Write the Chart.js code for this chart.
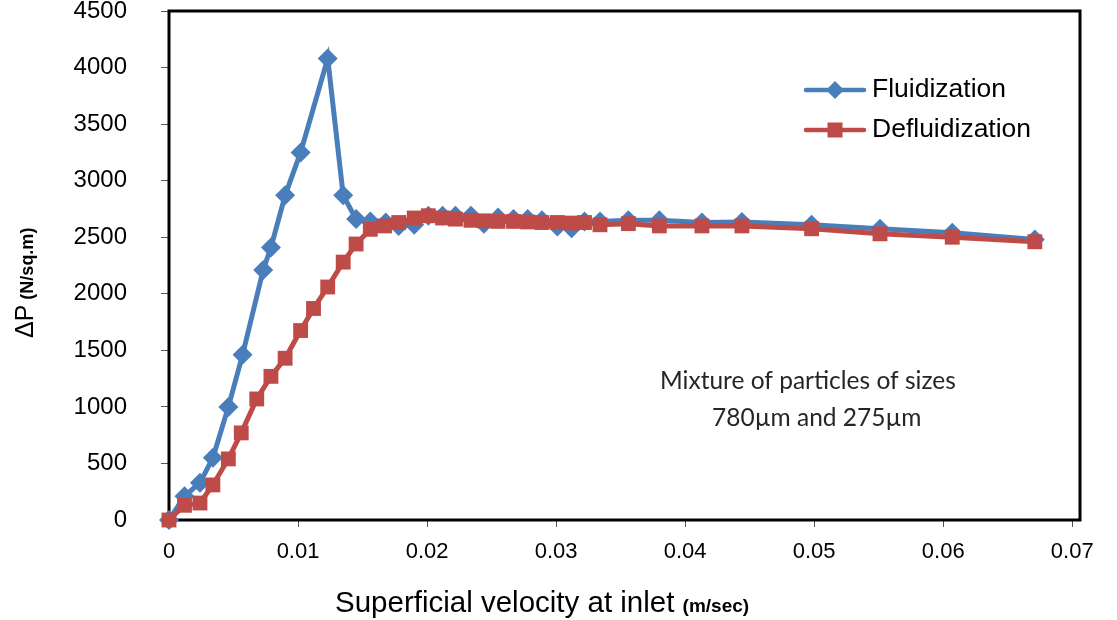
<!DOCTYPE html>
<html lang="en">
<head>
    <meta charset="UTF-8" />
    <title>Fluidization / Defluidization pressure drop</title>
    <script src="https://cdn.jsdelivr.net/npm/chart.js"></script>
    <style>
        html, body { margin: 0; padding: 0; background: #fff; }
        #wrap { position: relative; width: 1117px; height: 620px; }
    </style>
</head>
<body>
<div id="wrap"><canvas id="dpChart" width="1117" height="620"></canvas></div>
<script>
    // superficial velocity (m/sec) and pressure drop (N/sq.m)
    const velocityFluid = [0, 0.0012, 0.0024, 0.0034, 0.0046, 0.0057, 0.0073, 0.0079, 0.0090, 0.0102,
        0.0123, 0.0135, 0.0145, 0.0156, 0.0168, 0.0178, 0.0190, 0.0201, 0.0212, 0.0222,
        0.0234, 0.0244, 0.0255, 0.0267, 0.0278, 0.0289, 0.0301, 0.0312, 0.0322, 0.0334,
        0.0356, 0.0380, 0.0413, 0.0444, 0.0498, 0.0551, 0.0607, 0.0671];
    const dpFluid = [0, 210, 330, 550, 1000, 1460, 2210, 2410, 2870, 3250,
        4080, 2870, 2660, 2640, 2630, 2600, 2610, 2690, 2690, 2690,
        2690, 2620, 2675, 2660, 2660, 2650, 2595, 2580, 2640, 2640,
        2650, 2650, 2630, 2635, 2610, 2575, 2540, 2480];

    const velocityDefluid = [0, 0.0012, 0.0024, 0.0034, 0.0046, 0.0056, 0.0068, 0.0079, 0.0090, 0.0102,
        0.0112, 0.0123, 0.0135, 0.0145, 0.0156, 0.0167, 0.0178, 0.0190, 0.0201, 0.0212,
        0.0222, 0.0234, 0.0244, 0.0255, 0.0267, 0.0278, 0.0289, 0.0301, 0.0312, 0.0322,
        0.0334, 0.0356, 0.0380, 0.0413, 0.0444, 0.0498, 0.0551, 0.0607, 0.0671];
    const dpDefluid = [0, 130, 150, 310, 540, 770, 1070, 1270, 1430, 1675,
        1870, 2060, 2280, 2440, 2570, 2600, 2630, 2670, 2690, 2670,
        2660, 2650, 2645, 2640, 2640, 2635, 2630, 2630, 2625, 2630,
        2610, 2620, 2600, 2600, 2600, 2575, 2530, 2500, 2460];

    const seriesNames = ["Fluidization", "Defluidization"];
    const xTicks = [0, 0.01, 0.02, 0.03, 0.04, 0.05, 0.06, 0.07];
    const xTickLabels = ["0", "0.01", "0.02", "0.03", "0.04", "0.05", "0.06", "0.07"];
    const yTicks = [0, 500, 1000, 1500, 2000, 2500, 3000, 3500, 4000, 4500];
    const noteLines = ["Mixture of particles of sizes", "780\u00b5m and 275\u00b5m"];

    const BLUE = "#4A7EBB";
    const RED = "#BE4B48";
    const FONT = "'Liberation Sans', Arial, sans-serif";

    function toPoints(xs, ys) {
        return xs.map((x, i) => ({ x: x, y: ys[i] }));
    }

    // frame round the plot, both titles, legend and the note
    const decorations = {
        id: 'decorations',
        beforeDatasetsDraw(chart) {
            const { ctx, chartArea: a } = chart;
            ctx.save();
            ctx.strokeStyle = '#000';
            ctx.lineWidth = 3;
            ctx.strokeRect(a.left, a.top, a.right - a.left, a.bottom - a.top);
            ctx.restore();
        },
        afterDraw(chart) {
            const ctx = chart.ctx;
            ctx.save();
            ctx.fillStyle = '#000';
            ctx.textBaseline = 'alphabetic';
            ctx.textAlign = 'left';

            // y title
            ctx.save();
            ctx.translate(33, 338);
            ctx.rotate(-Math.PI / 2);
            ctx.font = "25px " + FONT;
            ctx.fillText("\u0394P", 0, 0);
            const w = ctx.measureText("\u0394P").width;
            ctx.font = "bold 18px " + FONT;
            ctx.fillText("(N/sq.m)", w + 5, 0);
            ctx.restore();

            // x title
            ctx.font = "29.5px " + FONT;
            ctx.fillText("Superficial velocity at inlet", 335, 612);
            const xw = ctx.measureText("Superficial velocity at inlet ").width;
            ctx.font = "bold 19px " + FONT;
            ctx.fillText("(m/sec)", 335 + xw, 612);

            // legend
            const rows = [
                { name: seriesNames[0], color: BLUE, y: 90, shape: 'diamond' },
                { name: seriesNames[1], color: RED, y: 130, shape: 'square' }
            ];
            rows.forEach(r => {
                ctx.strokeStyle = r.color;
                ctx.fillStyle = r.color;
                ctx.lineWidth = 4.5;
                ctx.lineCap = 'round';
                ctx.beginPath();
                ctx.moveTo(806, r.y);
                ctx.lineTo(864, r.y);
                ctx.stroke();
                ctx.beginPath();
                if (r.shape === 'diamond') {
                    ctx.moveTo(835, r.y - 9);
                    ctx.lineTo(844, r.y);
                    ctx.lineTo(835, r.y + 9);
                    ctx.lineTo(826, r.y);
                    ctx.closePath();
                    ctx.fill();
                } else {
                    ctx.fillRect(827.5, r.y - 7.5, 15, 15);
                }
                ctx.fillStyle = '#000';
                ctx.font = "26.5px " + FONT;
                ctx.textBaseline = 'middle';
                ctx.fillText(r.name, 872, r.y);
            });

            // note
            ctx.fillStyle = '#262626';
            ctx.font = "24.5px Lato, 'Open Sans', sans-serif";
            ctx.textBaseline = 'alphabetic';
            ctx.fillText(noteLines[0], 660, 389);
            ctx.fillText(noteLines[1], 712, 426);
            ctx.restore();
        }
    };

    const ctx = document.getElementById('dpChart').getContext('2d');
    const chart = new Chart(ctx, {
        type: 'scatter',
        data: {
            datasets: [
                {
                    label: seriesNames[0],
                    data: toPoints(velocityFluid, dpFluid),
                    showLine: true,
                    borderColor: BLUE,
                    backgroundColor: BLUE,
                    borderWidth: 5,
                    pointStyle: 'rectRot',
                    pointRadius: 10,
                    pointBorderWidth: 0,
                    pointBackgroundColor: BLUE,
                    clip: false,
                    order: 2
                },
                {
                    label: seriesNames[1],
                    data: toPoints(velocityDefluid, dpDefluid),
                    showLine: true,
                    borderColor: RED,
                    backgroundColor: RED,
                    borderWidth: 5,
                    pointStyle: 'rect',
                    pointRadius: 10.5,
                    pointBorderWidth: 0,
                    pointBackgroundColor: RED,
                    clip: false,
                    order: 1
                }
            ]
        },
        options: {
            responsive: false,
            animation: false,
            layout: { padding: { top: 11, right: 37, left: 0, bottom: 0 } },
            plugins: {
                legend: { display: false },
                tooltip: { enabled: false }
            },
            scales: {
                x: {
                    type: 'linear',
                    min: 0,
                    max: 0.0706,
                    afterBuildTicks: axis => { axis.ticks = xTicks.map(v => ({ value: v })); },
                    afterFit: axis => { axis.height = 100; },
                    grid: { drawOnChartArea: false, drawTicks: true, tickLength: 7, color: '#555', lineWidth: 1 },
                    border: { display: false },
                    ticks: {
                        padding: 12,
                        color: '#000',
                        font: { family: FONT, size: 22 },
                        maxRotation: 0,
                        autoSkip: false,
                        callback: (v, i) => xTickLabels[i]
                    }
                },
                y: {
                    min: 0,
                    max: 4500,
                    afterBuildTicks: axis => { axis.ticks = yTicks.map(v => ({ value: v })); },
                    afterFit: axis => {
                        axis.width = 169;
                        axis.paddingTop = 0;
                        axis.paddingBottom = 0;
                    },
                    grid: { drawOnChartArea: false, drawTicks: true, tickLength: 8, color: '#555', lineWidth: 1 },
                    border: { display: false },
                    ticks: {
                        padding: 34,
                        color: '#000',
                        font: { family: FONT, size: 24 },
                        autoSkip: false,
                        callback: v => String(v)
                    }
                }
            }
        },
        plugins: [decorations]
    });
</script>
</body>
</html>
